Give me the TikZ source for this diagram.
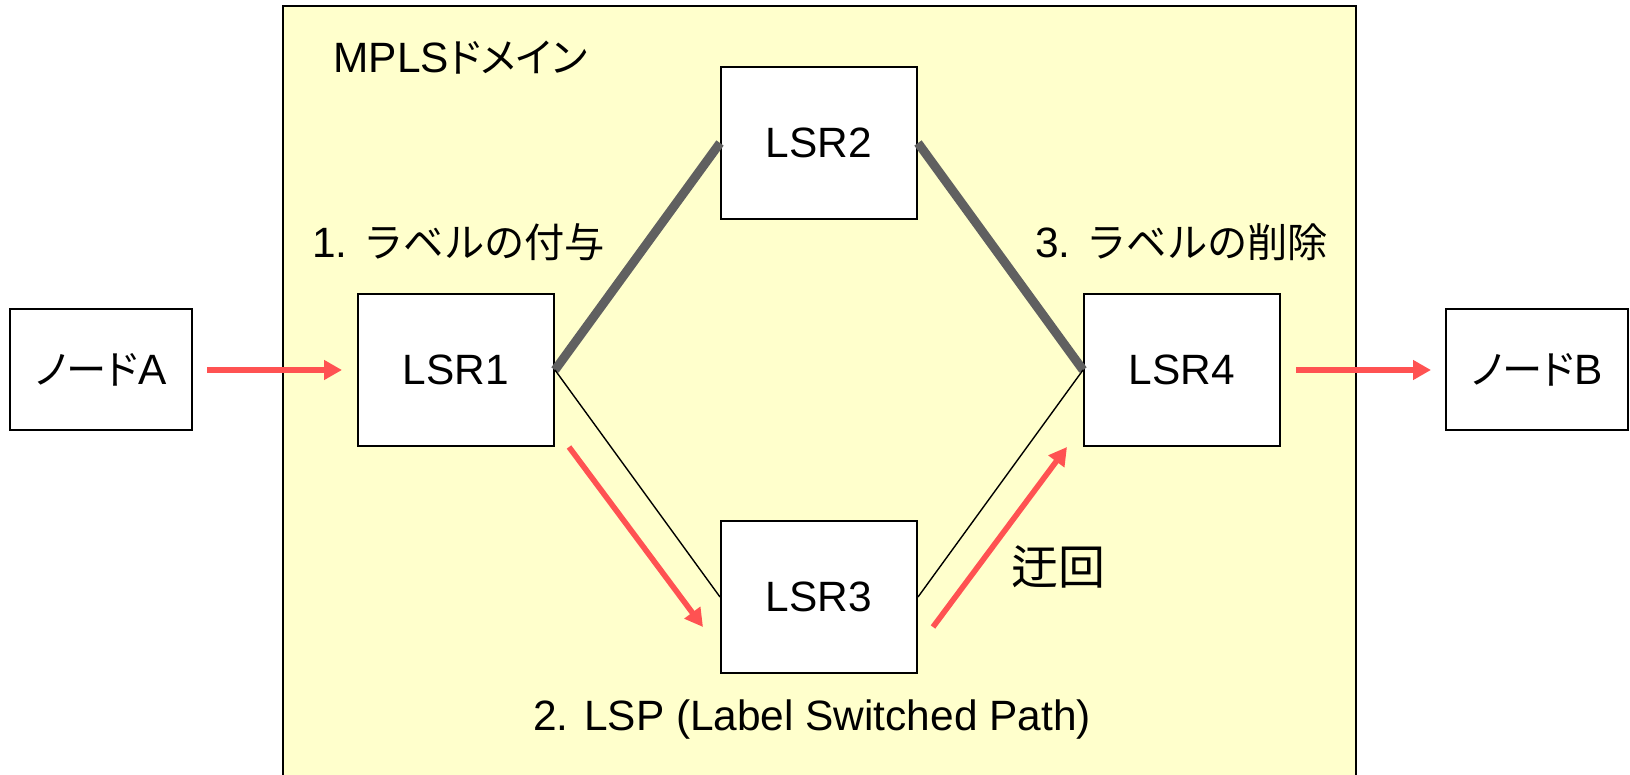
\documentclass[tikz,border=0pt]{standalone}
\usepackage{fontspec}
\setmainfont{Liberation Sans}
\newfontfamily\jp[Scale=0.95]{Noto Sans CJK JP}
\newfontfamily\jpp[Scale=0.95,RawFeature=+palt]{Noto Sans CJK JP}
\usetikzlibrary{positioning,arrows.meta}
\definecolor{domainfill}{RGB}{255,255,204}
\definecolor{flowred}{RGB}{255,82,82}
\definecolor{trunkgray}{RGB}{96,96,96}

\begin{document}
\begin{tikzpicture}[node distance=113.5pt and 181.5pt,on grid,
    every node/.style={font=\fontsize{21.2pt}{25pt}\selectfont},
    router/.style={draw,fill=white,line width=1pt,minimum width=98pt,minimum height=76pt},
    host/.style={router,minimum width=91pt,minimum height=60.5pt},
    tag/.style={anchor=west,inner sep=0pt},
    flow/.style={draw=flowred,line width=2.8pt,-{Triangle[length=9pt,width=9.5pt]}},
    trunk/.style={draw=trunkgray,line width=4.5pt},
    link/.style={draw,line width=0.7pt}]
   \useasboundingbox (0,0) rectangle (815pt,-387.5pt);
   % MPLS domain
   \draw[fill=domainfill,line width=1pt] (141.5pt,-3pt) rectangle (678pt,-395pt);
   \node[tag] (mpls) at (166.5pt,-29pt) {MPLS{\jpp ドメイン}};

   \node[router] (lsr1) at (228pt,-185pt) {LSR1};
   \node[router] (lsr2) [above right=of lsr1] {LSR2};
   \node[router] (lsr3) [below right=of lsr1] {LSR3};
   \node[router] (lsr4) [below right=of lsr2] {LSR4};
   \node[host] (hostA) [left=177.5pt of lsr1] {{\jpp ノード}A};
   \node[host] (hostB) [right=177.5pt of lsr4] {{\jpp ノード}B};

   \path[trunk]
    (lsr1.east) edge (lsr2.west)
    (lsr2.east) edge (lsr4.west);
   \path[link]
    (lsr1.east) edge (lsr3.west)
    (lsr3.east) edge (lsr4.west);

   % labelled path
   \draw[flow,shorten <=7pt,shorten >=7.5pt] (hostA) -- (lsr1);
   \draw[flow] ([xshift=7pt]lsr1.south east) -- ([xshift=-8.5pt,yshift=-15pt]lsr3.west);
   \draw[flow] ([xshift=7.5pt,yshift=-15pt]lsr3.east) -- ([xshift=-8pt]lsr4.south west);
   \draw[flow,shorten <=7.5pt,shorten >=7pt] (lsr4) -- (hostB);

   \node[tag] (push) at (156pt,-121pt) {1. {\jp ラベルの付与}};
   \node[tag] (pop) at (517.5pt,-121pt) {3. {\jp ラベルの削除}};
   \node[font=\fontsize{24.7pt}{29pt}\selectfont] (detour) at (529pt,-283.5pt) {\jp 迂回};
   \node (lsp) at (406pt,-360pt) {2. LSP (Label Switched Path)};
\end{tikzpicture}
\end{document}
